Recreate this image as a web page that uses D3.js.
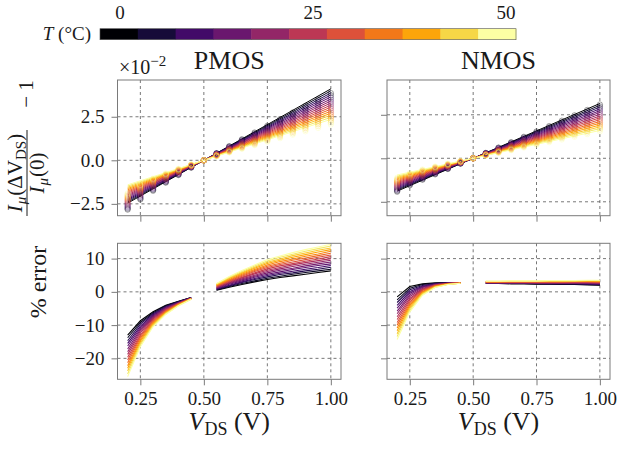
<!DOCTYPE html>
<html>
<head>
<meta charset="utf-8">
<script src="https://cdn.jsdelivr.net/npm/d3@7"></script>
<style>
body { margin: 0; background: #fff; }
svg text { font-family: "Liberation Serif", "DejaVu Serif", serif; fill: #1a1a1a; }
.grid line { stroke: #555; stroke-width: 0.8; stroke-dasharray: 3,3; }
.axis line { stroke: #7a7a7a; }
.axis path { display: none; }
.frame { fill: none; stroke: #7a7a7a; stroke-width: 1; }
</style>
</head>
<body>
<div id="chart"></div>
<script>
// temperatures of the sweep (deg C), one curve each
var temps = [0, 3.3, 6.7, 10, 13.3, 16.7, 20, 23.3, 26.7, 30, 33.3, 36.7, 40, 43.3, 46.7, 50];
var vdsLow = [0.2, 0.25, 0.3, 0.35, 0.4, 0.45];
var vdsHigh = [0.55, 0.6, 0.65, 0.7, 0.75, 0.8, 0.85, 0.9, 0.95, 1.0];
var xTicks = [0.25, 0.5, 0.75, 1.0];
var yTicksTop = [-2.5, 0, 2.5];
var yTicksBottom = [-20, -10, 0, 10];
var cbarTicks = [0, 25, 50];
var cbarLevels = [0, 1, 2, 3, 4, 5, 6, 7, 8, 9, 10];

// slope of the linear fit, in 1e-2 per volt, around VDS = 0.5 V
var pmosSlope = [8.2, 7.97, 7.73, 7.5, 7.27, 7.03, 6.8, 6.57, 6.33, 6.1, 5.87, 5.63, 5.4, 5.17, 4.93, 4.7];
var nmosSlope = [6.3, 6.09, 5.89, 5.68, 5.47, 5.27, 5.06, 4.85, 4.65, 4.44, 4.23, 4.03, 3.82, 3.61, 3.41, 3.2];

// % error of the fit, rows follow temps, columns follow vdsLow / vdsHigh
var pmosErrLow = [
  [-13.0, -8.7, -6.0, -4.0, -2.8, -1.7],
  [-13.8, -9.2, -6.3, -4.2, -2.9, -1.7],
  [-14.7, -9.7, -6.6, -4.4, -3.0, -1.8],
  [-15.5, -10.3, -6.9, -4.6, -3.1, -1.8],
  [-16.3, -10.8, -7.2, -4.7, -3.2, -1.8],
  [-17.2, -11.3, -7.5, -4.9, -3.3, -1.9],
  [-18.0, -11.8, -7.8, -5.1, -3.4, -1.9],
  [-18.8, -12.3, -8.1, -5.3, -3.5, -1.9],
  [-19.7, -12.9, -8.4, -5.5, -3.5, -2.0],
  [-20.5, -13.4, -8.7, -5.7, -3.6, -2.0],
  [-21.3, -13.9, -9.0, -5.9, -3.7, -2.0],
  [-22.2, -14.4, -9.3, -6.1, -3.8, -2.1],
  [-23.0, -14.9, -9.6, -6.2, -3.9, -2.1],
  [-23.8, -15.5, -9.9, -6.4, -4.0, -2.1],
  [-24.7, -16.0, -10.2, -6.6, -4.1, -2.2],
  [-25.5, -16.5, -10.5, -6.8, -4.2, -2.2]
];
var pmosErrHigh = [
  [0.5, 1.4, 2.2, 3.0, 3.7, 4.3, 4.8, 5.3, 5.8, 6.3],
  [0.6, 1.6, 2.5, 3.3, 4.1, 4.7, 5.3, 5.8, 6.3, 6.8],
  [0.8, 1.8, 2.8, 3.7, 4.5, 5.2, 5.7, 6.3, 6.8, 7.4],
  [0.9, 2.0, 3.0, 4.0, 4.9, 5.6, 6.2, 6.8, 7.3, 7.9],
  [1.0, 2.3, 3.3, 4.4, 5.3, 6.0, 6.7, 7.3, 7.9, 8.4],
  [1.2, 2.5, 3.6, 4.7, 5.7, 6.5, 7.1, 7.8, 8.4, 9.0],
  [1.3, 2.7, 3.9, 5.0, 6.1, 6.9, 7.6, 8.3, 8.9, 9.5],
  [1.4, 2.9, 4.2, 5.4, 6.5, 7.3, 8.1, 8.8, 9.4, 10.0],
  [1.6, 3.1, 4.4, 5.7, 6.9, 7.8, 8.5, 9.2, 9.9, 10.6],
  [1.7, 3.3, 4.7, 6.1, 7.3, 8.2, 9.0, 9.7, 10.4, 11.1],
  [1.8, 3.5, 5.0, 6.4, 7.7, 8.6, 9.5, 10.2, 10.9, 11.6],
  [2.0, 3.7, 5.3, 6.7, 8.1, 9.1, 9.9, 10.7, 11.4, 12.2],
  [2.1, 4.0, 5.6, 7.1, 8.5, 9.5, 10.4, 11.2, 12.0, 12.7],
  [2.2, 4.2, 5.8, 7.4, 8.9, 9.9, 10.9, 11.7, 12.5, 13.2],
  [2.4, 4.4, 6.1, 7.8, 9.3, 10.4, 11.3, 12.2, 13.0, 13.8],
  [2.5, 4.6, 6.4, 8.1, 9.7, 10.8, 11.8, 12.7, 13.5, 14.3]
];
var nmosErrLow = [
  [-1.5, 1.6, 2.4, 2.7, 2.8, 2.8],
  [-2.4, 1.1, 2.2, 2.6, 2.8, 2.8],
  [-3.2, 0.6, 1.9, 2.5, 2.7, 2.8],
  [-4.1, 0.1, 1.7, 2.4, 2.7, 2.8],
  [-4.9, -0.4, 1.5, 2.3, 2.6, 2.7],
  [-5.8, -0.9, 1.3, 2.2, 2.6, 2.7],
  [-6.6, -1.4, 1.0, 2.1, 2.6, 2.7],
  [-7.5, -2.0, 0.8, 2.1, 2.5, 2.7],
  [-8.3, -2.5, 0.6, 2.0, 2.5, 2.7],
  [-9.2, -3.0, 0.4, 1.9, 2.4, 2.7],
  [-10.0, -3.5, 0.1, 1.8, 2.4, 2.7],
  [-10.9, -4.0, -0.1, 1.7, 2.4, 2.6],
  [-11.7, -4.5, -0.3, 1.6, 2.3, 2.6],
  [-12.6, -5.0, -0.5, 1.5, 2.3, 2.6],
  [-13.4, -5.5, -0.8, 1.4, 2.2, 2.6],
  [-14.3, -6.0, -1.0, 1.3, 2.2, 2.6]
];
var nmosErrHigh = [
  [2.5, 2.5, 2.4, 2.4, 2.3, 2.3, 2.2, 2.2, 2.1, 2.0],
  [2.5, 2.5, 2.5, 2.5, 2.4, 2.4, 2.3, 2.3, 2.2, 2.1],
  [2.6, 2.6, 2.5, 2.5, 2.5, 2.4, 2.4, 2.4, 2.3, 2.2],
  [2.6, 2.6, 2.6, 2.6, 2.5, 2.5, 2.5, 2.5, 2.4, 2.3],
  [2.7, 2.7, 2.6, 2.6, 2.6, 2.6, 2.6, 2.5, 2.5, 2.4],
  [2.7, 2.7, 2.7, 2.7, 2.7, 2.7, 2.6, 2.6, 2.6, 2.5],
  [2.8, 2.8, 2.8, 2.8, 2.7, 2.7, 2.7, 2.7, 2.7, 2.6],
  [2.8, 2.8, 2.8, 2.8, 2.8, 2.8, 2.8, 2.8, 2.8, 2.7],
  [2.9, 2.9, 2.9, 2.9, 2.9, 2.9, 2.9, 2.9, 2.9, 2.8],
  [2.9, 2.9, 2.9, 2.9, 2.9, 3.0, 3.0, 3.0, 3.0, 2.9],
  [3.0, 3.0, 3.0, 3.0, 3.0, 3.0, 3.0, 3.1, 3.1, 3.0],
  [3.0, 3.0, 3.1, 3.1, 3.1, 3.1, 3.1, 3.1, 3.2, 3.1],
  [3.1, 3.1, 3.1, 3.1, 3.1, 3.2, 3.2, 3.2, 3.3, 3.2],
  [3.1, 3.1, 3.2, 3.2, 3.2, 3.3, 3.3, 3.3, 3.4, 3.3],
  [3.2, 3.2, 3.2, 3.2, 3.2, 3.3, 3.3, 3.3, 3.4, 3.4],
  [3.2, 3.2, 3.3, 3.3, 3.3, 3.4, 3.4, 3.4, 3.5, 3.5]
];

var width = 618, height = 449;
var svg = d3.select("#chart").append("svg")
    .attr("width", width)
    .attr("height", height);

var color = d3.scaleSequential(d3.interpolateInferno).domain([0, 50]);

/**
 * One column of the figure: fit panel on top, error panel below
 */
function DeviceColumn(name, left, right, topDomain, slope, errLow, errHigh, showLabels){
    var self = this;
    self.name = name;
    self.slope = slope;
    self.errLow = errLow;
    self.errHigh = errHigh;
    self.showLabels = showLabels;
    self.x = d3.scaleLinear().domain([0.16, 1.04]).range([left, right]);
    self.yTop = d3.scaleLinear().domain(topDomain).range([215.7, 80]);
    self.yBot = d3.scaleLinear().domain([-26.3, 14.6]).range([379.3, 243.3]);
    self.init();
};

DeviceColumn.prototype.frame = function(y, yTicks, fmt, showX, id){
    var self = this;
    var x0 = self.x.range()[0], x1 = self.x.range()[1];
    var y0 = y.range()[1], y1 = y.range()[0];
    var g = svg.append("g");

    g.append("clipPath").attr("id", id)
        .append("rect").attr("x", x0).attr("y", y0).attr("width", x1 - x0).attr("height", y1 - y0);

    var grid = g.append("g").attr("class", "grid");
    grid.selectAll(".gx").data(xTicks).enter().append("line")
        .attr("x1", function(d){ return self.x(d); })
        .attr("x2", function(d){ return self.x(d); })
        .attr("y1", y0).attr("y2", y1);
    grid.selectAll(".gy").data(yTicks).enter().append("line")
        .attr("x1", x0).attr("x2", x1)
        .attr("y1", function(d){ return y(d); })
        .attr("y2", function(d){ return y(d); });

    var xAxis = d3.axisBottom(self.x).tickValues(xTicks).tickSize(6).tickPadding(6)
        .tickFormat(showX ? function(d){ return d.toFixed(2); } : "");
    g.append("g").attr("class", "axis")
        .attr("transform", "translate(0," + y1 + ")")
        .call(xAxis)
        .selectAll("text").style("font-size", "19px").attr("fill", "#1a1a1a");

    var yAxis = d3.axisLeft(y).tickValues(yTicks).tickSize(6).tickPadding(7)
        .tickFormat(self.showLabels ? fmt : "");
    g.append("g").attr("class", "axis")
        .attr("transform", "translate(" + x0 + ",0)")
        .call(yAxis)
        .selectAll("text").style("font-size", "19px").attr("fill", "#1a1a1a");

    var plot = g.append("g").attr("clip-path", "url(#" + id + ")");
    g.append("rect").attr("class", "frame")
        .attr("x", x0).attr("y", y0).attr("width", x1 - x0).attr("height", y1 - y0);
    return plot;
};

DeviceColumn.prototype.init = function(){
    var self = this;
    var minus = function(s){ return s.replace("-", "\u2212"); };

    // upper panel: linear fit and measured points
    var top = self.frame(self.yTop, yTicksTop, function(d){ return minus(d.toFixed(1)); }, false, "clip-top-" + self.name);
    var fitLine = d3.line()
        .x(function(d){ return self.x(d[0]); })
        .y(function(d){ return self.yTop(d[1]); });

    temps.forEach(function(t, k){
        var s = self.slope[k];
        top.append("path")
            .attr("d", fitLine([[0.2, s * (0.2 - 0.5)], [1.0, s * (1.0 - 0.5)]]))
            .attr("fill", "none")
            .attr("stroke", color(t))
            .attr("stroke-width", 1);
    });
    temps.forEach(function(t, k){
        var s = self.slope[k];
        var pts = [];
        vdsLow.forEach(function(v, i){ pts.push([v, s * (v - 0.5) / (1 + self.errLow[k][i] / 100)]); });
        pts.push([0.5, 0]);
        vdsHigh.forEach(function(v, i){ pts.push([v, s * (v - 0.5) / (1 + self.errHigh[k][i] / 100)]); });
        top.selectAll(null).data(pts).enter().append("circle")
            .attr("cx", function(d){ return self.x(d[0]); })
            .attr("cy", function(d){ return self.yTop(d[1]); })
            .attr("r", 2.7)
            .attr("fill", "none")
            .attr("stroke", color(t))
            .attr("stroke-opacity", 0.45)
            .attr("stroke-width", 0.8);
    });

    // lower panel: % error of the fit
    var bot = self.frame(self.yBot, yTicksBottom, function(d){ return minus(String(d)); }, true, "clip-bot-" + self.name);
    var errLine = d3.line()
        .x(function(d){ return self.x(d[0]); })
        .y(function(d){ return self.yBot(d[1]); });
    temps.forEach(function(t, k){
        var lo = vdsLow.map(function(v, i){ return [v, self.errLow[k][i]]; });
        var hi = vdsHigh.map(function(v, i){ return [v, self.errHigh[k][i]]; });
        [lo, hi].forEach(function(seg){
            bot.append("path")
                .attr("d", errLine(seg))
                .attr("fill", "none")
                .attr("stroke", color(t))
                .attr("stroke-width", 1.1);
        });
    });

    var cx = (self.x.range()[0] + self.x.range()[1]) / 2;
    svg.append("text")
        .attr("x", cx).attr("y", 69)
        .attr("text-anchor", "middle")
        .style("font-size", "26px")
        .text(self.name);

    var xl = svg.append("text")
        .attr("x", cx).attr("y", 430)
        .attr("text-anchor", "middle")
        .style("font-size", "26px");
    xl.append("tspan").style("font-style", "italic").text("V");
    xl.append("tspan").attr("dy", 5).style("font-size", "18px").text("DS");
    xl.append("tspan").attr("dy", -5).text(" (V)");
};

var pmos = new DeviceColumn("PMOS", 117.5, 341, [-3.18, 4.61], pmosSlope, pmosErrLow, pmosErrHigh, true);
var nmos = new DeviceColumn("NMOS", 387, 610, [-3.3, 4.5], nmosSlope, nmosErrLow, nmosErrHigh, false);

// offset text of the upper y axis
var off = svg.append("text").attr("x", 119).attr("y", 74).style("font-size", "20px");
off.append("tspan").text("\u00d710");
off.append("tspan").attr("dy", -8).style("font-size", "15px").text("\u22122");

// y labels
var yl = svg.append("g").attr("transform", "translate(27,146) rotate(-90)");
var num = yl.append("text").attr("x", -27).attr("y", -5).attr("text-anchor", "middle").style("font-size", "21px");
num.append("tspan").style("font-style", "italic").text("I");
num.append("tspan").attr("dx", 1).attr("dy", 4).style("font-size", "15px").style("font-style", "italic").text("\u03bc");
num.append("tspan").attr("dx", 1).attr("dy", -4).text("(\u0394V");
num.append("tspan").attr("dy", 4).style("font-size", "15px").text("DS");
num.append("tspan").attr("dy", -4).text(")");
yl.append("line").attr("x1", -70).attr("x2", 16).attr("y1", 0).attr("y2", 0)
    .attr("stroke", "#1a1a1a").attr("stroke-width", 1);
var den = yl.append("text").attr("x", -27).attr("y", 17).attr("text-anchor", "middle").style("font-size", "21px");
den.append("tspan").style("font-style", "italic").text("I");
den.append("tspan").attr("dx", 1).attr("dy", 4).style("font-size", "15px").style("font-style", "italic").text("\u03bc");
den.append("tspan").attr("dx", 1).attr("dy", -4).text("(0)");
yl.append("text").attr("x", 52).attr("y", 6).attr("text-anchor", "middle").style("font-size", "21px").text("\u2212 1");

svg.append("text")
    .attr("transform", "translate(46,282) rotate(-90)")
    .attr("text-anchor", "middle")
    .style("font-size", "24px")
    .text("% error");

// discrete colour bar for temperature
var cb = { left: 100, right: 516, top: 28.7, h: 11 };
var cbBin = d3.scaleBand().domain(cbarLevels).range([cb.left, cb.right]).padding(0);
var cbTick = d3.scaleLinear().domain([-2.6, 51.3]).range([cb.left, cb.right]);
svg.selectAll(".cbar").data(cbarLevels).enter().append("rect")
    .attr("x", function(d){ return cbBin(d); })
    .attr("y", cb.top)
    .attr("width", cbBin.bandwidth() + 0.5)
    .attr("height", cb.h)
    .attr("fill", function(d){ return d3.interpolateInferno(d / 10); });
svg.append("rect").attr("x", cb.left).attr("y", cb.top).attr("width", cb.right - cb.left).attr("height", cb.h)
    .attr("fill", "none").attr("stroke", "#555").attr("stroke-width", 0.6);
svg.selectAll(".cbt").data(cbarTicks).enter().append("text")
    .attr("x", function(d){ return cbTick(d); })
    .attr("y", 19)
    .attr("text-anchor", "middle")
    .style("font-size", "19px")
    .text(function(d){ return d; });
var tl = svg.append("text").attr("x", 91).attr("y", 40).attr("text-anchor", "end").style("font-size", "19px");
tl.append("tspan").style("font-style", "italic").text("T");
tl.append("tspan").text(" (\u00b0C)");
</script>
</body>
</html>
